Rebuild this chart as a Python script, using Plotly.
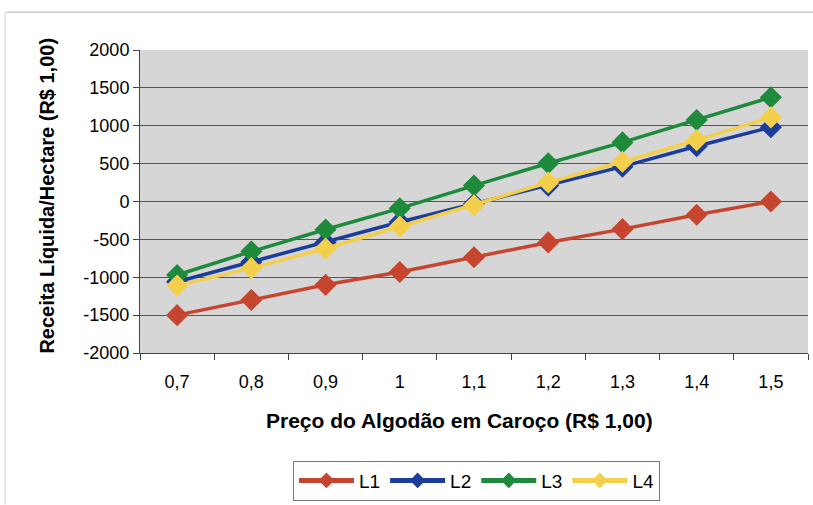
import plotly.graph_objects as go

categories = ["0,7", "0,8", "0,9", "1", "1,1", "1,2", "1,3", "1,4", "1,5"]
L1 = [-1500, -1300, -1100, -930, -735, -540, -365, -175, 0]
L2 = [-1060, -800, -540, -270, -30, 210, 460, 730, 980]
L3 = [-970, -660, -370, -90, 210, 505, 780, 1075, 1375]
L4 = [-1110, -880, -620, -330, -50, 250, 525, 810, 1110]
y_ticks = [-2000, -1500, -1000, -500, 0, 500, 1000, 1500, 2000]
y_ticktext = ["-2000", "-1500", "-1000", "-500", "0", "500", "1000", "1500", "2000"]

series = [("L1", L1, "#c6452f"), ("L2", L2, "#1c3e9b"), ("L3", L3, "#1e8a3b"), ("L4", L4, "#f3cf4c")]

fig = go.Figure()
for name, vals, col in series:
    fig.add_trace(go.Scatter(
        x=categories, y=vals, name=name, mode="lines+markers",
        line=dict(color=col, width=3.5),
        marker=dict(symbol="diamond", size=17, color=col),
    ))

font = "Liberation Sans, Arial, sans-serif"
fig.update_layout(
    width=813, height=505,
    margin=dict(l=140, r=5, t=50, b=150),
    paper_bgcolor="white", plot_bgcolor="#d6d6d6",
    font=dict(family=font, size=17, color="black"),
    showlegend=True,
    legend=dict(orientation="h", x=0.229, y=-0.355, xanchor="left", yanchor="top",
                bordercolor="#777", borderwidth=1, bgcolor="white",
                font=dict(size=19), itemwidth=55, itemsizing="constant", tracegroupgap=0),
    xaxis=dict(type="category", range=[-0.5, 8.5], showgrid=False,
               ticks="outside", ticklen=6, tickcolor="#444", tickson="boundaries",
               showline=True, linecolor="#444", linewidth=1, mirror=False,
               ticklabelstandoff=12, tickfont=dict(size=18)),
    yaxis=dict(range=[-2000, 2000], tickvals=y_ticks, ticktext=y_ticktext,
               showgrid=True, gridcolor="#555",
               gridwidth=1, zeroline=False, ticks="outside", ticklen=6, tickcolor="#444",
               showline=True, linecolor="#444", linewidth=1, tickfont=dict(size=18)),
    annotations=[
        dict(text="<b>Receita Líquida/Hectare (R$ 1,00)</b>", xref="paper", yref="paper",
             x=-0.139, y=0.52, textangle=-90, showarrow=False, font=dict(size=20),
             xanchor="center", yanchor="middle"),
        dict(text="<b>Preço do Algodão em Caroço (R$ 1,00)</b>", xref="paper", yref="paper",
             x=0.478, y=-0.222, showarrow=False, font=dict(size=21),
             xanchor="center", yanchor="middle"),
    ],
    shapes=[
        dict(type="line", xref="paper", yref="paper", x0=-0.2, x1=1.01, y0=1.125, y1=1.125,
             line=dict(color="#aaa", width=1)),
        dict(type="line", xref="paper", yref="paper", x0=-0.202, x1=-0.202, y0=1.125, y1=-0.5,
             line=dict(color="#ccc", width=1)),
    ],
)
fig.write_html("out.html")
